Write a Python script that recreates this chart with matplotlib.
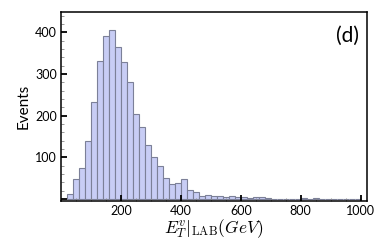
import numpy as np
import matplotlib
matplotlib.use("Agg")
import matplotlib.pyplot as plt
from matplotlib.ticker import MultipleLocator

plt.rcParams['mathtext.fontset'] = 'cm'
plt.rcParams['font.family'] = ['Lato', 'DejaVu Sans']

# histogram: 20 GeV bins starting at 20 GeV
bin_width = 20
bin_start = np.arange(20, 1000, bin_width)
counts = [12, 47, 74, 139, 233, 331, 391, 405, 364, 328,
          281, 204, 172, 130, 100, 78, 50, 35, 38, 47,
          22, 16, 8, 10, 8, 6, 5, 7, 5, 4,
          2, 4, 4, 2, 1, 1, 0, 1, 0, 2,
          1, 2, 1, 1, 0, 1, 0, 1, 0]

y_ticks = [100, 200, 300, 400]
x_ticks = [200, 400, 600, 800, 1000]

fig = plt.figure(figsize=(3.82, 2.42), dpi=100)
ax = fig.add_axes([0.160, 0.171, 0.801, 0.778])

ax.bar(bin_start[:len(counts)], counts, width=bin_width, align='edge',
       color='#c8cdf5', edgecolor='#7c8098', linewidth=0.8)

ax.set_xlim(0, 1022)
ax.set_ylim(-4, 448)
ax.set_xticks(x_ticks)
ax.set_yticks([0] + y_ticks)
ax.set_yticklabels([''] + [str(v) for v in y_ticks])
ax.xaxis.set_minor_locator(MultipleLocator(50))
ax.yaxis.set_minor_locator(MultipleLocator(20))
ax.tick_params(which='major', direction='in', length=4, width=1.3, labelsize=9, pad=3)
ax.tick_params(which='minor', direction='in', length=2, width=0.6, color='#888888')
for s in ax.spines.values():
    s.set_linewidth(1.1)

ax.set_ylabel('Events', fontsize=11, labelpad=3)
ax.set_xlabel(r'$E_T^v|_{\mathrm{LAB}}(GeV)$', fontsize=12.5, labelpad=0)
ax.text(0.975, 0.93, '(d)', transform=ax.transAxes, ha='right', va='top', fontsize=15)

fig.savefig('out.png', dpi=100)
